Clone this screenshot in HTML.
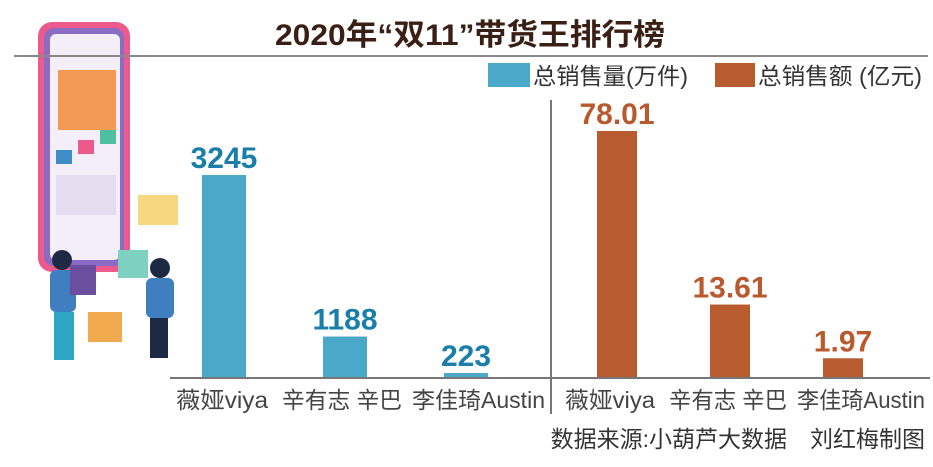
<!DOCTYPE html>
<html><head><meta charset="utf-8"><style>
body{margin:0;background:#fff;width:933px;height:462px;overflow:hidden}
svg text{font-family:"Liberation Sans","Noto Sans CJK SC",sans-serif}
</style></head><body>
<svg id="chart" width="933" height="462" viewBox="0 0 933 462" xmlns="http://www.w3.org/2000/svg">
<g>
  <rect x="38" y="22" width="92" height="250" rx="14" fill="#ec5a8c"/>
  <rect x="44" y="28" width="80" height="238" rx="10" fill="#8a6cc4"/>
  <rect x="50" y="34" width="70" height="226" rx="6" fill="#f4eef8"/>
  <rect x="58" y="70" width="58" height="60" fill="#f39a55"/>
  <rect x="56" y="150" width="16" height="14" fill="#3f8ec8"/>
  <rect x="78" y="140" width="16" height="14" fill="#ec5a8c"/>
  <rect x="100" y="130" width="16" height="14" fill="#4dc0a0"/>
  <rect x="56" y="175" width="60" height="40" fill="#e6dcef"/>
  <rect x="138" y="195" width="40" height="30" fill="#f4c84a" opacity="0.7"/>
  <rect x="118" y="250" width="30" height="28" fill="#7ed0c0"/>
  <rect x="88" y="312" width="34" height="30" fill="#f1a94e"/>
  <circle cx="62" cy="260" r="10" fill="#1e2a44"/>
  <rect x="50" y="270" width="26" height="42" rx="6" fill="#3f7fc0"/>
  <rect x="70" y="265" width="26" height="30" fill="#6b4f9e"/>
  <rect x="54" y="312" width="20" height="48" fill="#2fa7c4"/>
  <circle cx="160" cy="268" r="10" fill="#1e2a44"/>
  <rect x="146" y="278" width="28" height="40" rx="6" fill="#3f7fc0"/>
  <rect x="150" y="318" width="18" height="40" fill="#1e2a44"/>
</g>
<text x="275" y="45" textLength="390" lengthAdjust="spacingAndGlyphs" font-size="30" font-weight="bold" fill="#3a1f14">2020年“双11”带货王排行榜</text>
<line x1="14" y1="56" x2="928" y2="56" stroke="#888" stroke-width="2"/>
<g>
  <rect x="488" y="63" width="42" height="24" fill="#4aa8c8"/>
  <text x="533" y="84" textLength="155" lengthAdjust="spacingAndGlyphs" font-size="23" fill="#333">总销售量(万件)</text>
  <rect x="715" y="63" width="40" height="24" fill="#b85c30"/>
  <text x="758" y="84" textLength="164" lengthAdjust="spacingAndGlyphs" font-size="23" fill="#333">总销售额 (亿元)</text>
</g>
<line x1="551" y1="100" x2="551" y2="414" stroke="#777" stroke-width="2"/>
<line x1="170" y1="378" x2="930" y2="378" stroke="#777" stroke-width="2"/>
<g id="bars"></g>
<text x="925" y="447" text-anchor="end" font-size="23" fill="#333">数据来源:小葫芦大数据　刘红梅制图</text>
</svg>
<script>
const categories = ["薇娅viya", "辛有志 辛巴", "李佳琦Austin"];
const quantityValues = [3245, 1188, 223];
const quantityLabels = ["3245", "1188", "223"];
const amountValues = [78.01, 13.61, 1.97];
const amountLabels = ["78.01", "13.61", "1.97"];

const NS = "http://www.w3.org/2000/svg";
const g = document.getElementById("bars");
const baseY = 377;
function yQ(v){ return baseY - Math.max(4, Math.pow(v / 3245, 1.6) * 202); }
function yA(v){ return baseY - Math.pow(v / 78.01, 0.7) * 246; }
function xQ(i){ return 224 + i * 121; }
function xA(i){ return 617 + i * 113; }
function mk(tag, attrs){ const e = document.createElementNS(NS, tag); for (const k in attrs) e.setAttribute(k, attrs[k]); g.appendChild(e); return e; }
const leftLabelX = [176, 282, 412], leftLabelW = [92, 120, 133];
const rightLabelX = [565, 669, 797], rightLabelW = [90, 118, 128];

categories.forEach((c, i) => {
  const cx = xQ(i), top = yQ(quantityValues[i]);
  const b = mk("rect", {x: cx - 22, y: top, width: 44, height: baseY - top, fill: "#4aa8c8"});
  
  
  const t = mk("text", {x: cx, y: top - 7, "text-anchor": "middle", "font-size": "30", "font-weight": "bold", fill: "#1a7fa8"});
  t.textContent = quantityLabels[i];
  
  
  const cl = mk("text", {x: leftLabelX[i], y: 408, textLength: leftLabelW[i], lengthAdjust: "spacingAndGlyphs", "font-size": "23", fill: "#444"});
  cl.textContent = c;
  
  

  const ax = xA(i), at = yA(amountValues[i]);
  const b2 = mk("rect", {x: ax - 20, y: at, width: 40, height: baseY - at, fill: "#b85c30"});
  
  
  const t2 = mk("text", {x: ax, y: at - 7, "text-anchor": "middle", "font-size": "30", "font-weight": "bold", fill: "#b85a2e"});
  t2.textContent = amountLabels[i];
  
  
  const cl2 = mk("text", {x: rightLabelX[i], y: 408, textLength: rightLabelW[i], lengthAdjust: "spacingAndGlyphs", "font-size": "23", fill: "#444"});
  cl2.textContent = c;
  
  
});
</script>
</body></html>
